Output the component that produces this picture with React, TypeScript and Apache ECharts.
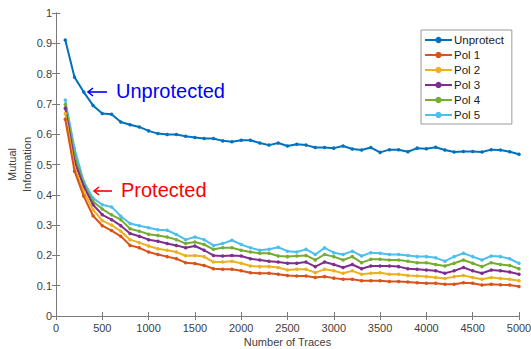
import React, { useEffect, useRef } from "react";
import * as echarts from "echarts";

const traces = [100, 200, 300, 400, 500, 600, 700, 800, 900, 1000, 1100, 1200, 1300, 1400, 1500, 1600, 1700, 1800, 1900, 2000, 2100, 2200, 2300, 2400, 2500, 2600, 2700, 2800, 2900, 3000, 3100, 3200, 3300, 3400, 3500, 3600, 3700, 3800, 3900, 4000, 4100, 4200, 4300, 4400, 4500, 4600, 4700, 4800, 4900, 5000];

const unprotect = [0.911, 0.788, 0.739, 0.695, 0.668, 0.666, 0.640, 0.631, 0.624, 0.611, 0.602, 0.599, 0.599, 0.593, 0.589, 0.586, 0.586, 0.578, 0.575, 0.580, 0.580, 0.571, 0.564, 0.571, 0.561, 0.567, 0.564, 0.556, 0.556, 0.554, 0.561, 0.551, 0.548, 0.556, 0.540, 0.549, 0.549, 0.542, 0.554, 0.552, 0.557, 0.548, 0.541, 0.543, 0.543, 0.541, 0.549, 0.548, 0.542, 0.534];

const pol1 = [0.649, 0.478, 0.395, 0.331, 0.298, 0.282, 0.263, 0.233, 0.225, 0.211, 0.203, 0.196, 0.189, 0.176, 0.173, 0.167, 0.156, 0.154, 0.154, 0.149, 0.143, 0.141, 0.141, 0.138, 0.134, 0.132, 0.132, 0.127, 0.130, 0.125, 0.121, 0.121, 0.116, 0.116, 0.116, 0.114, 0.114, 0.112, 0.110, 0.108, 0.108, 0.105, 0.105, 0.110, 0.108, 0.102, 0.105, 0.103, 0.102, 0.097];

const pol2 = [0.668, 0.490, 0.410, 0.351, 0.315, 0.300, 0.280, 0.252, 0.242, 0.231, 0.222, 0.217, 0.211, 0.199, 0.200, 0.196, 0.178, 0.178, 0.181, 0.174, 0.165, 0.163, 0.163, 0.160, 0.152, 0.154, 0.154, 0.143, 0.154, 0.149, 0.141, 0.149, 0.138, 0.141, 0.143, 0.138, 0.138, 0.134, 0.132, 0.130, 0.127, 0.124, 0.130, 0.134, 0.127, 0.121, 0.127, 0.124, 0.121, 0.116];

const pol3 = [0.686, 0.510, 0.427, 0.367, 0.334, 0.318, 0.298, 0.272, 0.263, 0.252, 0.247, 0.239, 0.233, 0.225, 0.231, 0.217, 0.200, 0.198, 0.200, 0.198, 0.189, 0.185, 0.181, 0.178, 0.174, 0.174, 0.178, 0.163, 0.178, 0.170, 0.160, 0.170, 0.156, 0.165, 0.165, 0.165, 0.163, 0.156, 0.154, 0.152, 0.149, 0.141, 0.149, 0.160, 0.149, 0.141, 0.152, 0.149, 0.145, 0.138];

const pol4 = [0.698, 0.530, 0.435, 0.378, 0.353, 0.334, 0.318, 0.288, 0.280, 0.270, 0.266, 0.261, 0.252, 0.239, 0.244, 0.236, 0.220, 0.225, 0.225, 0.217, 0.211, 0.207, 0.207, 0.198, 0.196, 0.198, 0.200, 0.185, 0.203, 0.196, 0.185, 0.196, 0.176, 0.187, 0.187, 0.185, 0.185, 0.181, 0.176, 0.176, 0.170, 0.165, 0.174, 0.185, 0.174, 0.163, 0.176, 0.170, 0.167, 0.156];

const pol5 = [0.713, 0.553, 0.444, 0.389, 0.367, 0.360, 0.329, 0.305, 0.298, 0.291, 0.285, 0.283, 0.269, 0.252, 0.261, 0.252, 0.233, 0.239, 0.250, 0.236, 0.225, 0.217, 0.220, 0.227, 0.214, 0.211, 0.220, 0.203, 0.225, 0.209, 0.203, 0.214, 0.198, 0.209, 0.207, 0.203, 0.203, 0.200, 0.196, 0.196, 0.192, 0.181, 0.196, 0.207, 0.196, 0.185, 0.198, 0.196, 0.189, 0.174];

const seriesNames = ["Unprotect", "Pol 1", "Pol 2", "Pol 3", "Pol 4", "Pol 5"];
const seriesValues = [unprotect, pol1, pol2, pol3, pol4, pol5];
const seriesColors = ["#0072BD", "#D95319", "#EDB120", "#7E2F8E", "#77AC30", "#4DBEEE"];

const FONT = "Arial, 'Liberation Sans', sans-serif";
const AXIS_COLOR = "#7a7a7a";
const LABEL_COLOR = "#404040";

function arrow(x1: number, x2: number, y: number, color: string) {
  return {
    type: "group",
    children: [
      { type: "line", shape: { x1, y1: y, x2, y2: y }, style: { stroke: color, lineWidth: 1.6 } },
      {
        type: "polyline",
        shape: { points: [[x1 + 5, y - 4], [x1, y], [x1 + 5, y + 4]] },
        style: { stroke: color, lineWidth: 1.6, fill: null },
      },
    ],
  };
}

export default function App() {
  const ref = useRef<HTMLDivElement>(null);

  useEffect(() => {
    if (!ref.current) return;
    const chart = echarts.init(ref.current, null, { renderer: "svg" });

    const series: any[] = seriesNames.map((name, i) => ({
      name,
      type: "line",
      data: traces.map((t, j) => [t, seriesValues[i][j]]),
      symbol: "circle",
      symbolSize: 3.5,
      showSymbol: true,
      lineStyle: { width: 2, color: seriesColors[i] },
      itemStyle: { color: seriesColors[i] },
      z: 10 - i,
    }));

    const axisCommon = {
      axisLine: { show: true, lineStyle: { color: AXIS_COLOR, width: 1 } },
      axisTick: { show: true, inside: true, length: 4, lineStyle: { color: AXIS_COLOR } },
      splitLine: { show: false },
    };

    chart.setOption({
      animation: false,
      backgroundColor: "#ffffff",
      textStyle: { fontFamily: FONT },
      grid: {
        left: 56,
        right: 12,
        top: 13,
        bottom: 33,
        containLabel: false,
        outerBoundsMode: "none",
      },
      legend: {
        orient: "vertical",
        left: 421,
        top: 30,
        padding: [4, 8, 3, 3],
        itemGap: 3,
        itemWidth: 27,
        itemHeight: 8,
        backgroundColor: "#ffffff",
        borderColor: "#9a9a9a",
        borderWidth: 1,
        textStyle: {
          fontSize: 11.5,
          lineHeight: 11,
          color: "#202020",
          fontFamily: FONT,
          padding: [0, 0, 0, -3],
        },
        data: seriesNames,
      },
      xAxis: [
        {
          type: "value",
          min: 0,
          max: 5000,
          interval: 500,
          position: "bottom",
          name: "Number of Traces",
          nameLocation: "middle",
          nameGap: 20,
          nameMoveOverlap: false,
          nameTextStyle: { fontSize: 11, color: LABEL_COLOR, fontFamily: FONT },
          axisLabel: {
            fontSize: 11,
            color: LABEL_COLOR,
            margin: 6,
            fontFamily: FONT,
            formatter: (v: number) => String(v),
          },
          ...axisCommon,
        },
        {
          type: "value",
          min: 0,
          max: 5000,
          interval: 500,
          position: "top",
          axisLabel: { show: false },
          ...axisCommon,
        },
      ],
      yAxis: [
        {
          type: "value",
          min: 0,
          max: 1,
          interval: 0.1,
          position: "left",
          name: "Mutual\nInformation",
          nameLocation: "middle",
          nameGap: 22,
          nameMoveOverlap: false,
          nameTextStyle: { fontSize: 11, color: LABEL_COLOR, lineHeight: 15, fontFamily: FONT },
          axisLabel: {
            fontSize: 11,
            color: LABEL_COLOR,
            margin: 4,
            fontFamily: FONT,
            formatter: (v: number) => String(Math.round(v * 10) / 10),
          },
          ...axisCommon,
        },
        {
          type: "value",
          min: 0,
          max: 1,
          interval: 0.1,
          position: "right",
          axisLabel: { show: false },
          ...axisCommon,
        },
      ],
      graphic: [
        arrow(88, 107, 92, "#0000ff"),
        {
          type: "text",
          left: 116,
          top: 81,
          style: { text: "Unprotected", fontSize: 20, fill: "#0000ff", fontFamily: FONT },
        },
        arrow(94, 112, 191, "#ff0000"),
        {
          type: "text",
          left: 121,
          top: 180,
          style: { text: "Protected", fontSize: 20, fill: "#ff0000", fontFamily: FONT },
        },
      ],
      series,
    });

    return () => chart.dispose();
  }, []);

  return (
    <div
      ref={ref}
      style={{ position: "fixed", left: 0, top: 0, width: 531, height: 349 }}
    />
  );
}
